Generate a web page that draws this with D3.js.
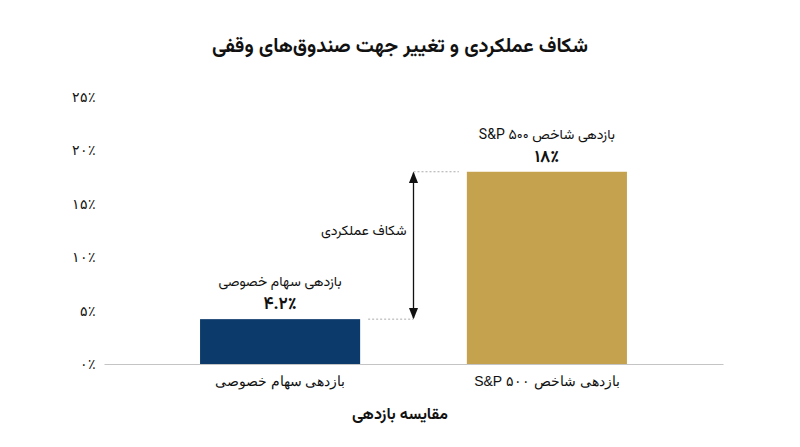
<!DOCTYPE html>
<html lang="fa">
<head>
    <meta charset="UTF-8">
    <title>performance gap</title>
    <script src="https://cdn.jsdelivr.net/npm/d3@7"></script>
    <style>
        body { margin: 0; background: #fff; font-family: Vazirmatn, "Noto Sans Arabic", "DejaVu Sans", sans-serif; }
        svg text { fill: #111; }
    </style>
</head>
<body>
<div id="chart"></div>
<script type="text/javascript">
    var w = 800;
    var h = 447;

    // data
    var categories = ["بازدهی سهام خصوصی", "بازدهی شاخص S&P ۵۰۰"];
    var values = [4.2, 18];
    var valueLabels = ["۴.۲٪", "۱۸٪"];
    var barColors = ["#0c3a6b", "#c5a24d"];
    var yTicks = [0, 5, 10, 15, 20, 25];
    var gapLabel = "شکاف عملکردی";
    var title = "شکاف عملکردی و تغییر جهت صندوق‌های وقفی";
    var xTitle = "مقایسه بازدهی";

    var faDigits = "۰۱۲۳۴۵۶۷۸۹";
    function toFa(n) {
        return String(n).replace(/[0-9]/g, function(c) { return faDigits[+c]; });
    }

    var svg = d3.select("#chart")
      .append("svg")
      .attr("width", w)
      .attr("height", h)
      .attr("xmlns", "http://www.w3.org/2000/svg");

    var x = d3.scaleBand().domain(categories).range([104, 723])
        .paddingInner(0.4).paddingOuter(0.36);
    var y = d3.scaleLinear().domain([0, 25]).range([364, 97]);

    // title
    svg.append("text")
      .attr("x", 400).attr("y", 52)
      .attr("text-anchor", "middle")
      .attr("direction", "rtl")
      .style("font-size", "20px").style("font-weight", "bold")
      .text(title);

    // y axis, labels only
    var yAxis = svg.append("g")
      .attr("transform", "translate(104,0)")
      .call(d3.axisLeft(y).tickValues(yTicks).tickSize(0).tickPadding(8)
          .tickFormat(function(d) { return toFa(d) + "٪"; }));
    yAxis.select(".domain").remove();
    yAxis.selectAll("text").style("font-size", "14px").style("font-family", "inherit").attr("fill", "#111");

    // bars
    svg.selectAll(".bar")
      .data(values)
      .enter()
      .append("rect")
      .attr("class", "bar")
      .attr("x", function(d, i) { return x(categories[i]); })
      .attr("y", function(d) { return y(d); })
      .attr("width", x.bandwidth())
      .attr("height", function(d) { return y(0) - y(d); })
      .attr("fill", function(d, i) { return barColors[i]; });

    // x axis with baseline
    var xAxis = svg.append("g")
      .attr("transform", "translate(0," + y(0) + ")")
      .call(d3.axisBottom(x).tickSize(0).tickPadding(12).tickSizeOuter(0));
    xAxis.select(".domain").attr("stroke", "#c4c4c4").attr("stroke-width", 1.2);
    xAxis.selectAll("text").style("font-size", "14px").style("font-family", "inherit")
      .attr("fill", "#111").attr("direction", "rtl");

    svg.append("text")
      .attr("x", 400).attr("y", 419)
      .attr("text-anchor", "middle")
      .attr("direction", "rtl")
      .style("font-size", "16px").style("font-weight", "bold")
      .text(xTitle);

    // labels over bars
    var lab = svg.selectAll(".lab")
      .data(values)
      .enter()
      .append("g")
      .attr("class", "lab")
      .attr("transform", function(d, i) {
          return "translate(" + (x(categories[i]) + x.bandwidth() / 2) + "," + y(d) + ")";
      });
    lab.append("text")
      .attr("y", -33)
      .attr("text-anchor", "middle")
      .attr("direction", "rtl")
      .style("font-size", "14px")
      .text(function(d, i) { return categories[i]; });
    lab.append("text")
      .attr("y", -10)
      .attr("text-anchor", "middle")
      .style("font-size", "17px").style("font-weight", "bold")
      .text(function(d, i) { return valueLabels[i]; });

    // gap arrow between the two bar tops
    var ax = (x(categories[0]) + x.bandwidth() + x(categories[1])) / 2;
    var yLo = y(values[0]), yHi = y(values[1]);

    var defs = svg.append("defs");
    defs.append("marker")
      .attr("id", "head")
      .attr("viewBox", "0 0 10 10")
      .attr("refX", 9).attr("refY", 5)
      .attr("markerWidth", 9).attr("markerHeight", 9)
      .attr("orient", "auto-start-reverse")
      .append("path")
      .attr("d", "M0,1 L10,5 L0,9 Z")
      .attr("fill", "#111");

    svg.append("line")
      .attr("x1", ax).attr("x2", ax)
      .attr("y1", yLo - 1).attr("y2", yHi + 1)
      .attr("stroke", "#111").attr("stroke-width", 1.3)
      .attr("marker-start", "url(#head)")
      .attr("marker-end", "url(#head)");

    svg.append("line")
      .attr("x1", ax).attr("x2", x(categories[1]) - 8)
      .attr("y1", yHi).attr("y2", yHi)
      .attr("stroke", "#aaa").attr("stroke-dasharray", "2,2");
    svg.append("line")
      .attr("x1", x(categories[0]) + x.bandwidth() + 8).attr("x2", ax)
      .attr("y1", yLo).attr("y2", yLo)
      .attr("stroke", "#aaa").attr("stroke-dasharray", "2,2");

    svg.append("text")
      .attr("x", ax - 7).attr("y", (yLo + yHi) / 2 - 10)
      .attr("text-anchor", "start")
      .attr("direction", "rtl")
      .style("font-size", "14px")
      .text(gapLabel);
</script>
</body>
</html>
